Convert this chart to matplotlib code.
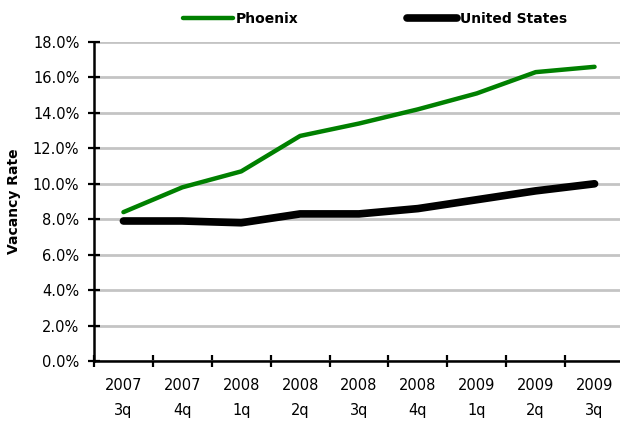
import matplotlib
matplotlib.use("Agg")
from matplotlib import pyplot as plt
from matplotlib.ticker import FixedLocator, FuncFormatter
import numpy as np

# Quarterly vacancy rates (%)
quarters = ["2007\n3q", "2007\n4q", "2008\n1q", "2008\n2q", "2008\n3q",
            "2008\n4q", "2009\n1q", "2009\n2q", "2009\n3q"]
phoenix = [8.4, 9.8, 10.7, 12.7, 13.4, 14.2, 15.1, 16.3, 16.6]
united_states = [7.9, 7.9, 7.8, 8.3, 8.3, 8.6, 9.1, 9.6, 10.0]

plt.rcParams["font.family"] = "DejaVu Sans"

fig = plt.figure(figsize=(6.2, 4.21), dpi=100)
ax = fig.add_axes([94 / 620, 60 / 421, 530 / 620, 319 / 421])

x = np.arange(len(quarters))
ax.plot(x, phoenix, color="#008000", lw=3.2, label="Phoenix",
        solid_capstyle="round", zorder=3)
ax.plot(x, united_states, color="black", lw=5.5, label="United States",
        solid_capstyle="round", zorder=3)

ax.set_xlim(-0.5, len(quarters) - 0.5)
ax.set_ylim(0, 18)
ax.set_yticks(np.arange(0, 18.1, 2))
ax.yaxis.set_major_formatter(FuncFormatter(lambda v, _: f"{v:.1f}%"))
ax.grid(axis="y", color="#c4c4c4", lw=2)
ax.set_axisbelow(True)

ax.set_xticks(x)
ax.set_xticklabels(quarters, linespacing=1.85)
ax.xaxis.set_minor_locator(FixedLocator(np.arange(-0.5, len(quarters) - 0.4, 1)))
ax.tick_params(axis="x", which="major", length=0, pad=12, labelsize=10.5)
ax.tick_params(axis="x", which="minor", length=9, width=1.6, direction="inout")
ax.tick_params(axis="y", length=9, width=1.6, direction="inout", pad=6, labelsize=10.5)

for side in ["top", "right"]:
    ax.spines[side].set_visible(False)
for side in ["left", "bottom"]:
    ax.spines[side].set_linewidth(1.8)

ax.set_ylabel("Vacancy Rate", fontweight="bold", fontsize=10)
ax.yaxis.set_label_coords(-0.138, 0.5)

fig.legend(loc="center", bbox_to_anchor=(375 / 620, 1 - 19 / 421), ncol=2,
           frameon=False, handlelength=3.6, handletextpad=0.2,
           columnspacing=7.8, prop={"weight": "bold", "size": 10})

fig.savefig("out.png", dpi=100)
